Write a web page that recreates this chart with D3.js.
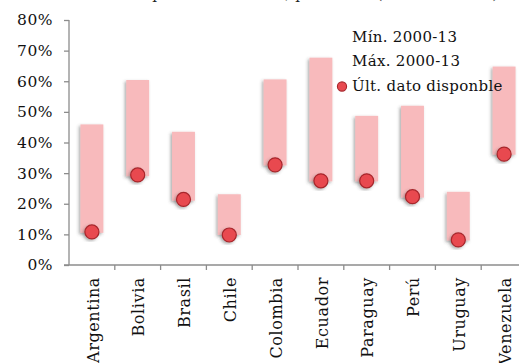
<!DOCTYPE html>
<html>
<head>
<meta charset="utf-8">
<script src="https://cdn.jsdelivr.net/npm/d3@7/dist/d3.min.js"></script>
<style>
  html, body { margin: 0; padding: 0; background: #fff; }
  svg { display: block; font-family: "DejaVu Serif", serif; }
</style>
</head>
<body>
<svg id="chart" width="519" height="363"></svg>
<script>
// Poverty range 2000-13 by country, with the latest available value (% of total)
const categories = ["Argentina", "Bolivia", "Brasil", "Chile", "Colombia",
                    "Ecuador", "Paraguay", "Perú", "Uruguay", "Venezuela"];
const minValues  = [10.5, 29.0, 21.0, 9.8, 32.5, 27.3, 27.3, 22.0, 8.0, 36.0];
const maxValues  = [45.9, 60.4, 43.5, 23.1, 60.6, 67.7, 48.7, 52.0, 23.9, 64.8];
const lastValues = [10.8, 29.4, 21.4, 9.8, 32.7, 27.5, 27.5, 22.3, 8.2, 36.2];
const yTicks = [0, 10, 20, 30, 40, 50, 60, 70, 80];
const legendLabels = ["Mín. 2000-13", "Máx. 2000-13", "Últ. dato disponble"];
const title = "Tasa de pobreza 2000-13, población (en % del total)";

const svg = d3.select("#chart");
const axisColor = "#8c8c8c";
const barColor = "#f8babc";
const dotFill = "#e84a50";
const dotStroke = "#a8252b";

const x = d3.scaleBand().domain(categories).range([69, 527]).padding(0);
const y = d3.scaleLinear().domain([0, 80]).range([265, 20]);

// soft drop shadow under bars and markers
const defs = svg.append("defs");
const f = defs.append("filter").attr("id", "shadow")
  .attr("x", "-50%").attr("y", "-20%").attr("width", "200%").attr("height", "140%");
f.append("feDropShadow").attr("dx", -1.5).attr("dy", 1.5)
  .attr("stdDeviation", 1.4).attr("flood-color", "#444").attr("flood-opacity", 0.45);

// title, running off the top edge of the frame
svg.append("text").attr("x", 293).attr("y", -1)
  .attr("text-anchor", "middle").attr("font-size", 15).attr("fill", "#222")
  .attr("letter-spacing", 0.3)
  .text(title);

// y axis
const yAxis = svg.append("g").attr("transform", "translate(69,0)")
  .call(d3.axisLeft(y).tickValues(yTicks).tickSize(5).tickPadding(11)
    .tickFormat(d => d + "%"));
yAxis.select(".domain").attr("stroke", axisColor).attr("stroke-width", 1.3)
  .attr("d", "M0," + y(80) + "V" + y(0));
yAxis.selectAll(".tick line").attr("stroke", axisColor).attr("stroke-width", 1.3);
yAxis.selectAll(".tick text").attr("font-size", 15.5).attr("fill", "#111")
  .attr("font-family", "DejaVu Serif, serif").attr("letter-spacing", 0.5);

// x axis line and category boundary ticks
const xAxisG = svg.append("g");
xAxisG.append("line").attr("x1", 64).attr("x2", 527).attr("y1", y(0)).attr("y2", y(0))
  .attr("stroke", axisColor).attr("stroke-width", 1.3);
xAxisG.selectAll("line.bt").data(categories.slice(1)).join("line").attr("class", "bt")
  .attr("x1", d => x(d)).attr("x2", d => x(d))
  .attr("y1", y(0)).attr("y2", y(0) + 5)
  .attr("stroke", axisColor).attr("stroke-width", 1.3);
xAxisG.selectAll("text").data(categories).join("text")
  .attr("transform", d => `translate(${x(d) + x.bandwidth() / 2 + 1},277) rotate(-90)`)
  .attr("text-anchor", "end").attr("dy", "0.36em")
  .attr("font-size", 16).attr("letter-spacing", 0.6).attr("fill", "#111")
  .text(d => d);

// range bars (min to max)
const barW = x.bandwidth() * 0.5;
svg.append("g").selectAll("rect").data(categories).join("rect")
  .attr("x", d => x(d) + (x.bandwidth() - barW) / 2)
  .attr("y", (d, i) => y(maxValues[i]))
  .attr("width", barW)
  .attr("height", (d, i) => y(minValues[i]) - y(maxValues[i]))
  .attr("fill", barColor)
  .attr("filter", "url(#shadow)");

// latest value markers
svg.append("g").selectAll("circle").data(categories).join("circle")
  .attr("cx", d => x(d) + x.bandwidth() / 2)
  .attr("cy", (d, i) => y(lastValues[i]))
  .attr("r", 7)
  .attr("fill", dotFill).attr("stroke", dotStroke).attr("stroke-width", 1.2)
  .attr("filter", "url(#shadow)");

// legend
const lg = svg.append("g");
legendLabels.forEach((t, i) => {
  lg.append("text").attr("x", 352).attr("y", 42 + i * 24.3)
    .attr("font-size", 15).attr("letter-spacing", 0.3).attr("fill", "#111").text(t);
});
lg.append("circle").attr("cx", 342).attr("cy", 86.5).attr("r", 4.6)
  .attr("fill", dotFill).attr("stroke", dotStroke).attr("stroke-width", 1.1);
</script>
</body>
</html>
